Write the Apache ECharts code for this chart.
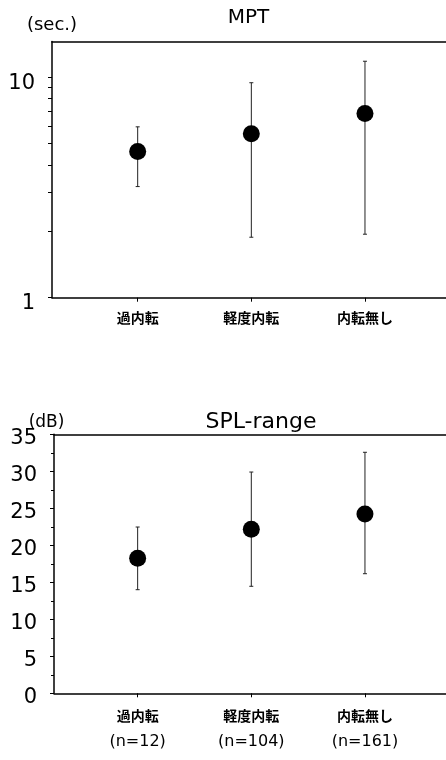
<!DOCTYPE html>
<html>
<head>
<meta charset="utf-8">
<script src="https://cdn.jsdelivr.net/npm/echarts@6/dist/echarts.min.js"></script>
<style>html,body{margin:0;padding:0;background:#fff;}#c{width:446px;height:760px;}</style>
</head>
<body>
<div id="c"></div>
<script>
const categories = ['過内転', '軽度内転', '内転無し'];
const nLabels = ['(n=12)', '(n=104)', '(n=161)'];
const catPos = [1, 2, 3];

const mptMean = [4.6, 5.53, 6.84];
const mptHigh = [5.95, 9.43, 11.8];
const mptLow = [3.19, 1.88, 1.94];
const mptLabelTicks = [1, 10];
const mptTicks = [1, 2, 3, 4, 5, 6, 7, 8, 9, 10];

const splMean = [18.24, 22.16, 24.23];
const splHigh = [22.47, 29.9, 32.57];
const splLow = [14.0, 14.46, 16.16];

const FONT = 'DejaVu Sans';
const CJK = 'Noto Sans CJK JP';

const chart = echarts.init(document.getElementById('c'), null, {renderer: 'canvas'});

function errRender(params, api) {
  const x = api.value(0), lo = api.value(1), hi = api.value(2);
  const a = api.coord([x, hi]), b = api.coord([x, lo]);
  const w = 2;
  const st = {stroke: '#222', lineWidth: 1};
  return {type: 'group', children: [
    {type: 'line', shape: {x1: a[0], y1: a[1], x2: b[0], y2: b[1]}, style: st},
    {type: 'line', shape: {x1: a[0] - w, y1: a[1], x2: a[0] + w, y2: a[1]}, style: st},
    {type: 'line', shape: {x1: b[0] - w, y1: b[1], x2: b[0] + w, y2: b[1]}, style: st}
  ]};
}

const axisLineStyle = {color: '#000', width: 1.5};

function xBottom(gridIndex, min, withN) {
  return {
    type: 'value', gridIndex, min, max: 3.713, position: 'bottom',
    axisLine: {show: true, lineStyle: axisLineStyle},
    axisTick: {show: true, customValues: catPos, length: 4, lineStyle: {color: '#000'}},
    axisLabel: {
      show: true, customValues: catPos, margin: 12, color: '#000',
      formatter: function (v) {
        const i = Math.round(v) - 1;
        return withN ? ('{a|' + categories[i] + '}\n{b|' + nLabels[i] + '}') : ('{a|' + categories[i] + '}');
      },
      rich: {
        a: {fontFamily: CJK, fontWeight: 'bold', fontSize: 14, lineHeight: withN ? 20 : 16, color: '#000'},
        b: {fontFamily: FONT, fontSize: 16, lineHeight: 34, color: '#000'}
      }
    },
    splitLine: {show: false}
  };
}
function xTop(gridIndex, min) {
  return {
    type: 'value', gridIndex, min, max: 3.713, position: 'top',
    axisLine: {show: true, lineStyle: axisLineStyle},
    axisTick: {show: false}, axisLabel: {show: false}, splitLine: {show: false}
  };
}

const option = {
  backgroundColor: '#fff',
  animation: false,
  grid: [
    {left: 52, right: 0, top: 41.5, bottom: 462.3},
    {left: 54, right: 0, top: 434.3, bottom: 66.7}
  ],
  graphic: [
    {type: 'text', x: 248.5, y: 18, style: {text: 'MPT', font: '20px "DejaVu Sans"', fill: '#000', textAlign: 'center', textVerticalAlign: 'middle'}},
    {type: 'text', x: 52, y: 25.5, style: {text: '(sec.)', font: '18px "DejaVu Sans"', fill: '#000', textAlign: 'center', textVerticalAlign: 'middle'}},
    {type: 'text', x: 261, y: 422, style: {text: 'SPL-range', font: '22px "DejaVu Sans"', fill: '#000', textAlign: 'center', textVerticalAlign: 'middle'}},
    {type: 'text', x: 46.5, y: 423, style: {text: '(dB)', font: '17px "DejaVu Sans"', fill: '#000', textAlign: 'center', textVerticalAlign: 'middle'}}
  ],
  xAxis: [
    xBottom(0, 0.246, false),
    xTop(0, 0.246),
    xBottom(1, 0.264, true),
    xTop(1, 0.264)
  ],
  yAxis: [
    {
      type: 'log', logBase: 10, gridIndex: 0, min: 1, max: 14.5,
      axisLine: {show: true, lineStyle: axisLineStyle},
      axisTick: {show: true, customValues: mptTicks, length: 4, lineStyle: {color: '#000'}},
      axisLabel: {customValues: mptLabelTicks, margin: 17, fontSize: 21, fontFamily: FONT, color: '#000', verticalAlign: 'top', lineHeight: 12},
      splitLine: {show: false}, minorTick: {show: false}
    },
    {
      type: 'value', gridIndex: 1, min: 0, max: 35, interval: 5,
      axisLine: {show: true, lineStyle: axisLineStyle},
      axisTick: {show: true, length: 4, lineStyle: {color: '#000'}},
      minorTick: {show: true, splitNumber: 2, length: 3, lineStyle: {color: '#000'}},
      axisLabel: {margin: 17, fontSize: 21, fontFamily: FONT, color: '#000', verticalAlign: 'top', lineHeight: 8},
      splitLine: {show: false}
    }
  ],
  series: [
    {
      type: 'custom', xAxisIndex: 0, yAxisIndex: 0, renderItem: errRender,
      data: catPos.map((x, i) => [x, mptLow[i], mptHigh[i]]), z: 2
    },
    {
      type: 'scatter', xAxisIndex: 0, yAxisIndex: 0, symbol: 'circle', symbolSize: 17,
      itemStyle: {color: '#000', opacity: 1}, data: catPos.map((x, i) => [x, mptMean[i]]), z: 3
    },
    {
      type: 'custom', xAxisIndex: 2, yAxisIndex: 1, renderItem: errRender,
      data: catPos.map((x, i) => [x, splLow[i], splHigh[i]]), z: 2
    },
    {
      type: 'scatter', xAxisIndex: 2, yAxisIndex: 1, symbol: 'circle', symbolSize: 17,
      itemStyle: {color: '#000', opacity: 1}, data: catPos.map((x, i) => [x, splMean[i]]), z: 3
    }
  ]
};
chart.setOption(option);
</script>
</body>
</html>
